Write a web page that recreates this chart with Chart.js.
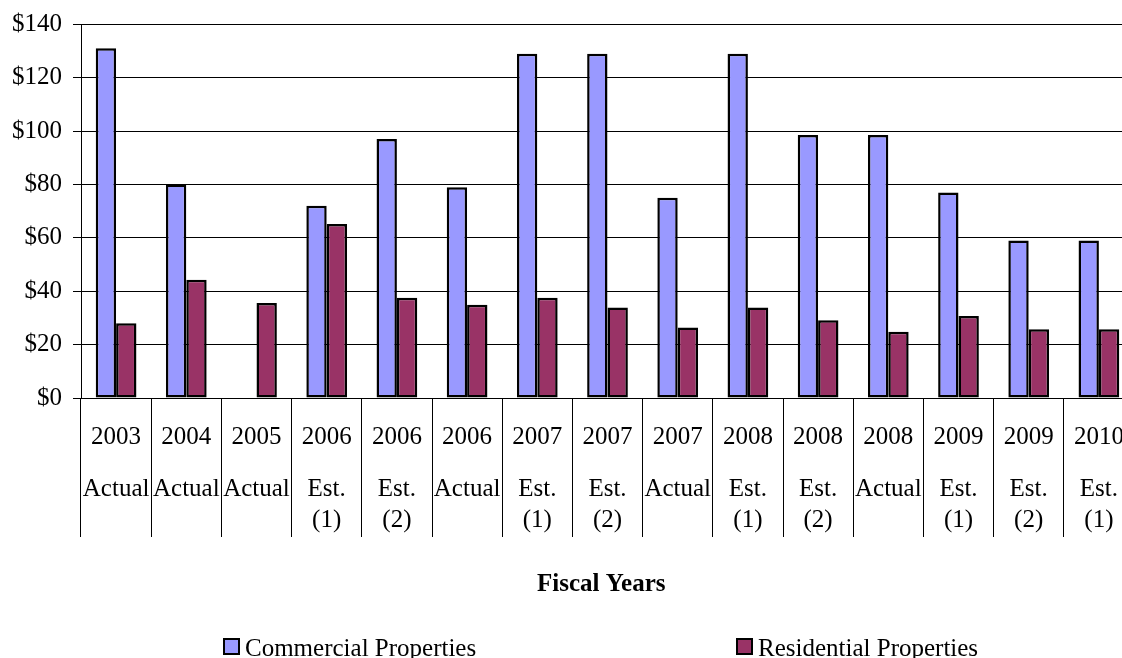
<!DOCTYPE html>
<html>
<head>
<meta charset="utf-8">
<script src="https://cdn.jsdelivr.net/npm/chart.js@4/dist/chart.umd.min.js"></script>
<style>
  html, body { margin: 0; padding: 0; overflow: hidden; background: #fff; }
  #wrap { position: relative; width: 1134px; height: 658px; }
</style>
</head>
<body>
<div id="wrap"><canvas id="c"></canvas></div>
<script>
// ---- data ----
const years = ['2003','2004','2005','2006','2006','2006','2007','2007','2007','2008','2008','2008','2009','2009','2010'];
const kinds = ['Actual','Actual','Actual','Est.','Est.','Actual','Est.','Est.','Actual','Est.','Est.','Actual','Est.','Est.','Est.'];
const notes = ['','','','(1)','(2)','','(1)','(2)','','(1)','(2)','','(1)','(2)','(1)'];
const commercial = [131, 80, null, 72, 97, 79, 129, 129, 75, 129, 98.5, 98.5, 77, 59, 59];
const residential = [28, 44.3, 35.6, 65.2, 37.6, 34.9, 37.6, 33.9, 26.4, 33.9, 29.1, 24.8, 30.7, 25.8, 25.8];
const seriesNames = ['Commercial Properties', 'Residential Properties'];
const yMin = 0, yMax = 140, yStep = 20;
const axisTitle = 'Fiscal Years';

// labels: year / kind / note, spaced with blank lines
const labels = years.map((y, i) => [y, '', '', '', '', kinds[i], '', '', notes[i]]);

const FONT = "'Liberation Serif', 'Times New Roman', Times, serif";
Chart.defaults.font.family = FONT;
Chart.defaults.font.size = 25;
Chart.defaults.color = '#000';

const legendPlugin = {
  id: 'sideLegend',
  afterDraw(chart) {
    const ctx = chart.ctx;
    const xs = [223, 736];
    ctx.save();
    ctx.font = '25px ' + FONT;
    ctx.textBaseline = 'alphabetic';
    ctx.textAlign = 'left';
    chart.data.datasets.forEach((ds, i) => {
      const x = xs[i];
      ctx.fillStyle = ds.backgroundColor;
      ctx.fillRect(x + 1, 639, 15, 15);
      ctx.strokeStyle = '#000';
      ctx.lineWidth = 2;
      ctx.strokeRect(x + 1, 639, 15, 15);
      ctx.fillStyle = '#000';
      ctx.fillText(ds.label, x + 22, 656);
    });
    ctx.restore();
  }
};

new Chart(document.getElementById('c'), {
  type: 'bar',
  data: {
    labels: labels,
    datasets: [
      { label: seriesNames[0], data: commercial, backgroundColor: '#9999FF', borderColor: '#000', borderWidth: 2.5, borderSkipped: false },
      { label: seriesNames[1], data: residential, backgroundColor: '#993366', borderColor: '#000', borderWidth: 2.5, borderSkipped: false }
    ]
  },
  options: {
    responsive: true,
    maintainAspectRatio: false,
    animation: false,
    devicePixelRatio: 1,
    layout: { padding: { top: 10, left: 0, right: 0, bottom: 0 } },
    datasets: { bar: { categoryPercentage: 0.58, barPercentage: 1.0 } },
    plugins: { legend: { display: false }, tooltip: { enabled: false } },
    scales: {
      x: {
        offset: true,
        grid: { display: true, drawOnChartArea: false, drawTicks: true, tickLength: 139, color: '#000', lineWidth: 1, offset: true },
        border: { display: true, color: '#000', width: 1 },
        ticks: { autoSkip: false, maxRotation: 0, minRotation: 0, padding: -104.6, font: { size: 25, lineHeight: '10.4px' }, color: '#000' },
        title: { display: true, text: axisTitle + '  ', font: { size: 25, weight: 'bold', lineHeight: 1.2 }, color: '#000', padding: { top: 0, bottom: 58 } },
        afterFit: (s) => { s.height = 260; }
      },
      y: {
        min: yMin, max: yMax,
        grid: { color: '#000', lineWidth: 1, tickLength: 8, drawTicks: true },
        border: { display: true, color: '#000', width: 1 },
        ticks: { stepSize: yStep, padding: 11, font: { size: 25, lineHeight: '26.6px' }, color: '#000', callback: (v) => '$' + v },
        afterFit: (s) => { s.width = 81; }
      }
    }
  },
  plugins: [legendPlugin]
});
</script>
</body>
</html>
